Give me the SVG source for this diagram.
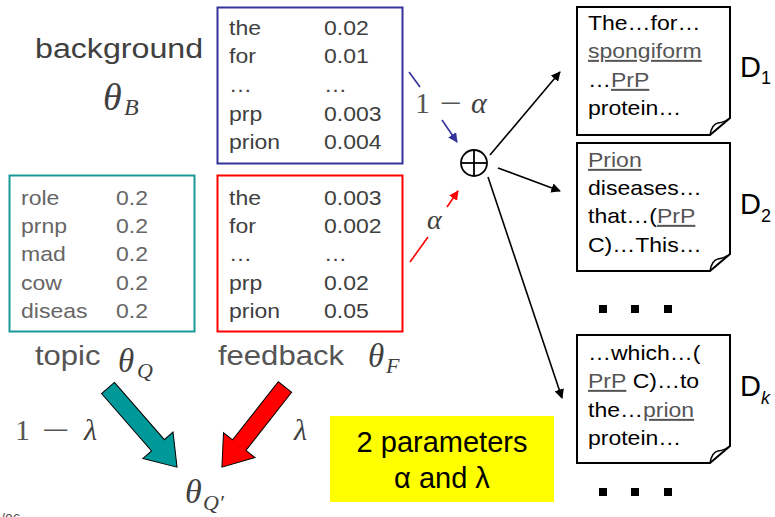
<svg xmlns="http://www.w3.org/2000/svg" width="775" height="517" viewBox="0 0 775 517">
<style>
.sans{font-family:"Liberation Sans",Arial,sans-serif}
.st{transform-box:fill-box;transform-origin:0 0;transform:scaleX(1.15)}
.math{font-family:"Liberation Serif","Times New Roman",serif;font-style:italic;fill:#404040}
.rm{font-family:"Liberation Serif","Times New Roman",serif;font-style:normal;fill:#555}
.tb{font-size:20px;fill:#404040}
.tq{font-size:20px;fill:#666}
.lab{font-size:28px;fill:#404040}
.doc{font-size:20px;fill:#000}
.u{text-decoration:underline;fill:#555}
.dl{font-size:29px;fill:#000}
.ds{font-size:18px;fill:#000}
.page{fill:#fff;stroke:#000;stroke-width:2}
.curl{fill:none;stroke:#000;stroke-width:1.5}
.ln{stroke-width:1.6;fill:none}
</style>
<defs>
<marker id="ab" viewBox="0 0 10 10" refX="9" refY="5" markerWidth="6" markerHeight="6" orient="auto"><path d="M0,0 L10,5 L0,10 Z" fill="#333399"/></marker>
<marker id="ar" viewBox="0 0 10 10" refX="9" refY="5" markerWidth="6" markerHeight="6" orient="auto"><path d="M0,0 L10,5 L0,10 Z" fill="#ff0000"/></marker>
<marker id="ak" viewBox="0 0 10 10" refX="9" refY="5" markerWidth="6" markerHeight="6" orient="auto"><path d="M0,0 L10,5 L0,10 Z" fill="#000"/></marker>
</defs>

<g id="background">
<text class="sans lab st" x="35" y="58">background</text>
<text class="math" x="103" y="110" font-size="38">θ</text>
<text class="math" x="124" y="115" font-size="24">B</text>
</g>

<g id="bg-table">
<rect x="217.5" y="7.5" width="185" height="156" fill="none" stroke="#333399" stroke-width="2"/>
<g class="sans tb">
<text class="st" x="229" y="35">the</text><text class="st" x="324" y="35">0.02</text>
<text class="st" x="229" y="63">for</text><text class="st" x="324" y="63">0.01</text>
<text class="st" x="229" y="92">…</text><text class="st" x="324" y="92">…</text>
<text class="st" x="229" y="121">prp</text><text class="st" x="324" y="121">0.003</text>
<text class="st" x="229" y="149">prion</text><text class="st" x="324" y="149">0.004</text>
</g>
</g>

<g id="topic-table">
<rect x="9.5" y="175.5" width="185" height="156" fill="none" stroke="#1a9999" stroke-width="2"/>
<g class="sans tq">
<text class="st" x="21" y="205">role</text><text class="st" x="116" y="205">0.2</text>
<text class="st" x="21" y="233">prnp</text><text class="st" x="116" y="233">0.2</text>
<text class="st" x="21" y="261">mad</text><text class="st" x="116" y="261">0.2</text>
<text class="st" x="21" y="290">cow</text><text class="st" x="116" y="290">0.2</text>
<text class="st" x="21" y="318">diseas</text><text class="st" x="116" y="318">0.2</text>
</g>
</g>

<g id="fb-table">
<rect x="217.5" y="175.5" width="185" height="156" fill="none" stroke="#ff0000" stroke-width="2"/>
<g class="sans tb">
<text class="st" x="229" y="205">the</text><text class="st" x="324" y="205">0.003</text>
<text class="st" x="229" y="233">for</text><text class="st" x="324" y="233">0.002</text>
<text class="st" x="229" y="261">…</text><text class="st" x="324" y="261">…</text>
<text class="st" x="229" y="290">prp</text><text class="st" x="324" y="290">0.02</text>
<text class="st" x="229" y="318">prion</text><text class="st" x="324" y="318">0.05</text>
</g>
</g>

<g id="topic">
<text class="sans st" x="35" y="365" font-size="27" fill="#555">topic</text>
<text class="math" x="118" y="372" font-size="33">θ</text>
<text class="math" x="137" y="378" font-size="22">Q</text>
</g>

<g id="feedback">
<text class="sans st" x="218" y="365" font-size="27" fill="#555">feedback</text>
<text class="math" x="368" y="367" font-size="33">θ</text>
<text class="math" x="386" y="373" font-size="22">F</text>
</g>

<g id="query-model">
<text class="math" x="185" y="503" font-size="34">θ</text>
<text class="math" x="203" y="510" font-size="22">Q′</text>
</g>

<g id="mix">
<circle cx="474" cy="163" r="13" fill="none" stroke="#000" stroke-width="1.8"/>
<line x1="461" y1="163" x2="487" y2="163" stroke="#000" stroke-width="1.8"/>
<line x1="474" y1="150" x2="474" y2="176" stroke="#000" stroke-width="1.8"/>
</g>

<g id="connectors">
<line class="ln" x1="409" y1="72" x2="420" y2="87" stroke="#333399"/>
<line class="ln" x1="442" y1="120" x2="457" y2="142" stroke="#333399" marker-end="url(#ab)"/>
<line class="ln" x1="410" y1="262" x2="428" y2="237" stroke="#ff0000"/>
<line class="ln" x1="447" y1="207" x2="458" y2="191" stroke="#ff0000" marker-end="url(#ar)"/>
<line class="ln" x1="490" y1="155" x2="560" y2="72" stroke="#000" marker-end="url(#ak)"/>
<line class="ln" x1="498" y1="168" x2="560" y2="191" stroke="#000" marker-end="url(#ak)"/>
<line class="ln" x1="488" y1="177" x2="562" y2="398" stroke="#000" marker-end="url(#ak)"/>
<path transform="translate(108,388) rotate(48.9)" d="M0,-8.5 H76 V-20 L105,0 L76,20 V8.5 H0 Z" fill="#009999" stroke="#000" stroke-width="1"/>
<path transform="translate(285,387) rotate(128.2)" d="M0,-8.5 H74 V-20 L102,0 L74,20 V8.5 H0 Z" fill="#ff0000" stroke="#000" stroke-width="1"/>
</g>

<g id="weights">
<text class="rm" x="415" y="113" font-size="30">1</text>
<text class="rm" x="440" y="113" font-size="30" textLength="22" lengthAdjust="spacingAndGlyphs">−</text>
<text class="math" x="471" y="113" font-size="30" fill="#555">α</text>
<text class="math" x="427" y="229" font-size="28" fill="#555">α</text>
<text class="rm" x="15" y="440" font-size="30" fill="#404040">1</text>
<text class="rm" x="42" y="440" font-size="30" fill="#404040" textLength="28" lengthAdjust="spacingAndGlyphs">−</text>
<text class="math" x="84" y="440" font-size="30">λ</text>
<text class="math" x="294" y="440" font-size="30">λ</text>
</g>

<g id="doc1">
<path class="page" d="M577,7 H730 V118 L710,135 H577 Z"/>
<path class="curl" d="M710,135 Q712,124 718,123 Q725,122 730,118"/>
<g class="sans doc">
<text class="st" x="588" y="30">The…for…</text>
<text class="st" x="588" y="58"><tspan class="u">spongiform</tspan></text>
<text class="st" x="588" y="87">…<tspan class="u">PrP</tspan></text>
<text class="st" x="588" y="115">protein…</text>
</g>
<text class="sans dl" x="740" y="77">D</text><text class="sans ds" x="761" y="84">1</text>
</g>

<g id="doc2">
<path class="page" d="M577,143 H730 V254 L710,271 H577 Z"/>
<path class="curl" d="M710,271 Q712,260 718,259 Q725,258 730,254"/>
<g class="sans doc">
<text class="st" x="588" y="167"><tspan class="u">Prion</tspan></text>
<text class="st" x="588" y="195">diseases…</text>
<text class="st" x="588" y="223">that…(<tspan class="u">PrP</tspan></text>
<text class="st" x="588" y="252">C)…This…</text>
</g>
<text class="sans dl" x="740" y="214">D</text><text class="sans ds" x="761" y="222">2</text>
</g>

<g id="dots1">
<rect x="599" y="305" width="8" height="8"/><rect x="631" y="305" width="8" height="8"/><rect x="664" y="305" width="8" height="8"/>
</g>

<g id="dock">
<path class="page" d="M577,335 H730 V446 L710,463 H577 Z"/>
<path class="curl" d="M710,463 Q712,452 718,451 Q725,450 730,446"/>
<g class="sans doc">
<text class="st" x="588" y="360">…which…(</text>
<text class="st" x="588" y="388"><tspan class="u">PrP</tspan> C)…to</text>
<text class="st" x="588" y="417">the…<tspan class="u">prion</tspan></text>
<text class="st" x="588" y="445">protein…</text>
</g>
<text class="sans dl" x="740" y="396">D</text><text class="sans ds" x="761" y="404" font-style="italic">k</text>
</g>

<g id="dots2">
<rect x="599" y="488" width="8" height="8"/><rect x="631" y="488" width="8" height="8"/><rect x="664" y="488" width="8" height="8"/>
</g>

<g id="note">
<rect x="330" y="416" width="224" height="86" fill="#ffff00"/>
<text class="sans" x="442" y="452" font-size="29" text-anchor="middle" fill="#000">2 parameters</text>
<text class="sans" x="442" y="488" font-size="29" text-anchor="middle" fill="#000">α and λ</text>
</g>

<text class="sans" x="1" y="524" font-size="14" fill="#555">/06</text>
</svg>
